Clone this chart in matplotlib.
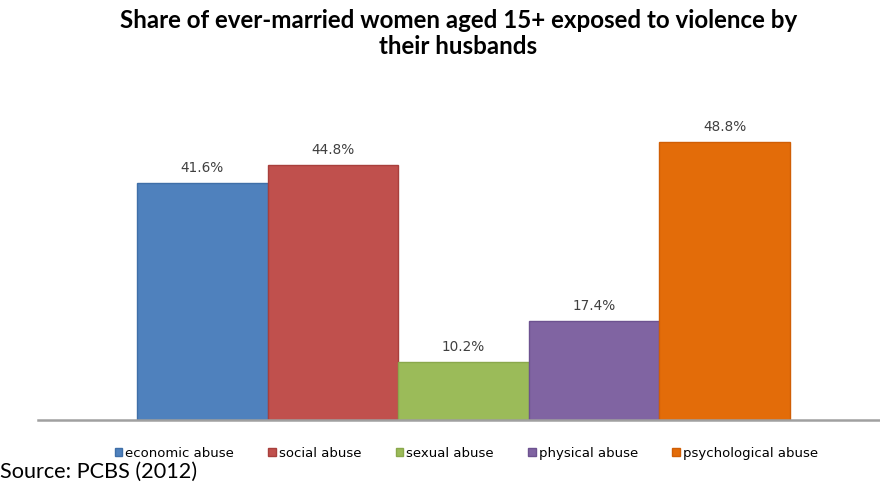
import matplotlib.pyplot as plt
from matplotlib.patches import Patch

categories = ["economic abuse", "social abuse", "sexual abuse", "physical abuse", "psychological abuse"]
shares = [41.6, 44.8, 10.2, 17.4, 48.8]
colors = ["#4F81BD", "#C0504D", "#9BBB59", "#8064A2", "#E36C09"]
edges = ["#3F6FA8", "#A83F3C", "#8AA84C", "#6D5290", "#D05E05"]

plt.rcParams['font.family'] = ['Lato', 'DejaVu Sans']

fig = plt.figure(figsize=(8.8, 4.86), dpi=100)
ax = fig.add_axes([38 / 880, 1 - 420 / 486, 842 / 880, (420 - 106.5) / 486])

x = list(range(len(categories)))
bars = ax.bar(x, shares, width=1.0, color=colors, edgecolor=edges, linewidth=1)

for b, v in zip(bars, shares):
    ax.text(b.get_x() + b.get_width() / 2, v + 2.65, f"{v:.1f}%",
            ha="center", va="center", fontsize=9.8, color="#404040",
            family="DejaVu Sans")

ax.set_xlim(-1.258, 5.189)
ax.set_ylim(0, 55)
ax.set_xticks([])
ax.set_yticks([])
for s in ["top", "right", "left"]:
    ax.spines[s].set_visible(False)
ax.spines["bottom"].set_color("#A0A0A0")
ax.spines["bottom"].set_linewidth(1.8)

fig.text(0.521, 1 - 20 / 486, "Share of ever-married women aged 15+ exposed to violence by",
         ha="center", va="center", fontsize=17.4, fontweight="bold")
fig.text(0.521, 1 - 46 / 486, "their husbands",
         ha="center", va="center", fontsize=17.4, fontweight="bold")

handles = [Patch(facecolor=c, edgecolor=e) for c, e in zip(colors, edges)]
fig.legend(handles, categories, loc="center", bbox_to_anchor=(0.53, 1 - 453 / 486),
           ncol=5, frameon=False, handlelength=0.55, handleheight=0.55,
           handletextpad=0.25, columnspacing=2.6, borderpad=0,
           prop={"family": "DejaVu Sans", "size": 9.5})

fig.text(0.0, 1 - 472 / 486, "Source: PCBS (2012)", ha="left", va="center", fontsize=15.6)

fig.savefig("out.png", dpi=100)
